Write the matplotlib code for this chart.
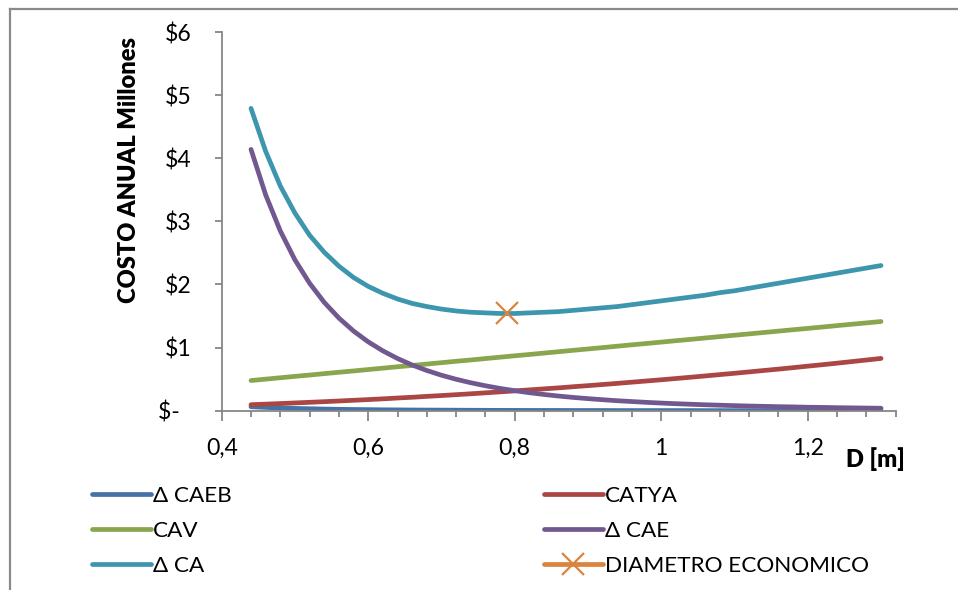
import numpy as np
import matplotlib
matplotlib.use('Agg')
import matplotlib.pyplot as plt
from matplotlib.ticker import MultipleLocator, FuncFormatter
from matplotlib.lines import Line2D

plt.rcParams['font.family'] = ['Lato', 'DejaVu Sans']

# --- data (millones $ per year vs diameter D [m])
D = [0.44, 0.46, 0.48, 0.50, 0.52, 0.54, 0.56, 0.58, 0.60, 0.62, 0.64,
     0.66, 0.68, 0.70, 0.72, 0.74, 0.76, 0.78, 0.80, 0.82, 0.84, 0.86,
     0.88, 0.90, 0.92, 0.94, 0.96, 0.98, 1.00, 1.02, 1.04, 1.06, 1.08,
     1.10, 1.12, 1.14, 1.16, 1.18, 1.20, 1.22, 1.24, 1.26, 1.28, 1.30]

caeb = [0.063, 0.052, 0.043, 0.036, 0.031, 0.026, 0.022, 0.019, 0.017, 0.014, 0.013,
        0.011, 0.010, 0.009, 0.008, 0.007, 0.006, 0.005, 0.005, 0.004, 0.004, 0.004,
        0.003, 0.003, 0.003, 0.002, 0.002, 0.002, 0.002, 0.002, 0.002, 0.001, 0.001,
        0.001, 0.001, 0.001, 0.001, 0.001, 0.001, 0.001, 0.001, 0.001, 0.001, 0.001]

catya = [0.095, 0.104, 0.113, 0.123, 0.133, 0.143, 0.154, 0.165, 0.176, 0.188, 0.201,
         0.213, 0.227, 0.240, 0.254, 0.268, 0.283, 0.298, 0.314, 0.330, 0.346, 0.362,
         0.380, 0.397, 0.415, 0.433, 0.452, 0.471, 0.490, 0.510, 0.530, 0.551, 0.572,
         0.593, 0.615, 0.637, 0.659, 0.682, 0.706, 0.729, 0.753, 0.778, 0.803, 0.828]

cav = [0.478, 0.500, 0.522, 0.544, 0.565, 0.587, 0.609, 0.630, 0.652, 0.674, 0.696,
       0.717, 0.739, 0.761, 0.783, 0.804, 0.826, 0.848, 0.870, 0.891, 0.913, 0.935,
       0.957, 0.978, 1.000, 1.022, 1.044, 1.065, 1.087, 1.109, 1.130, 1.152, 1.174,
       1.196, 1.217, 1.239, 1.261, 1.283, 1.304, 1.326, 1.348, 1.370, 1.391, 1.413]

cae = [4.140, 3.420, 2.848, 2.389, 2.019, 1.716, 1.468, 1.262, 1.091, 0.948, 0.827,
       0.724, 0.637, 0.562, 0.498, 0.443, 0.395, 0.353, 0.317, 0.285, 0.257, 0.232,
       0.210, 0.191, 0.174, 0.158, 0.145, 0.132, 0.121, 0.111, 0.102, 0.094, 0.087,
       0.080, 0.074, 0.069, 0.064, 0.060, 0.055, 0.052, 0.048, 0.045, 0.042, 0.039]

ca = [4.79, 4.11, 3.56, 3.13, 2.78, 2.51, 2.29, 2.11, 1.97, 1.86, 1.77,
      1.70, 1.65, 1.61, 1.58, 1.56, 1.55, 1.54, 1.54, 1.55, 1.56, 1.57,
      1.59, 1.61, 1.63, 1.65, 1.68, 1.71, 1.74, 1.77, 1.80, 1.83, 1.87,
      1.90, 1.94, 1.98, 2.02, 2.06, 2.10, 2.14, 2.18, 2.22, 2.26, 2.30]

d_eco = [0.79]
ca_eco = [1.55]

names = ['\u0394 CAEB', 'CATYA', 'CAV', '\u0394 CAE', '\u0394 CA', 'DIAMETRO ECONOMICO']
colors = ['#4573a7', '#aa4643', '#89a54e', '#71588f', '#3d96ae', '#db843d']

# --- figure
fig = plt.figure(figsize=(9.58, 5.90), dpi=100)
ax = fig.add_axes([221.7/958, 1-410.7/590, 674/958, (410.7-32)/590])

lw = 3.4
series = [caeb, catya, cav, cae, ca]
handles = []
for vals, c, n in zip(series, colors[:5], names[:5]):
    h, = ax.plot(D, vals, color=c, lw=lw, solid_capstyle='round', label=n)
    handles.append(h)
# single point with line style so the legend shows line + cross
h_eco, = ax.plot(d_eco, ca_eco, ls='-', lw=lw, marker='x', ms=15.5, mew=1.6,
                 color=colors[5], solid_capstyle='round', label=names[5])

ax.set_xlim(0.4, 1.32)
ax.set_ylim(0, 6)

gray = '#868686'
for s in ['top', 'right']:
    ax.spines[s].set_visible(False)
for s in ['left', 'bottom']:
    ax.spines[s].set_color(gray)
    ax.spines[s].set_linewidth(1.3)

ax.xaxis.set_major_locator(MultipleLocator(0.2))
ax.xaxis.set_minor_locator(MultipleLocator(0.04))
ax.yaxis.set_major_locator(MultipleLocator(1))
ax.xaxis.set_major_formatter(FuncFormatter(lambda v, p: f'{v:g}'.replace('.', ',')))
# accounting style: zero shown as "$-" followed by a gap
ax.yaxis.set_major_formatter(FuncFormatter(
    lambda v, p: '$-\u2002' if abs(v) < 1e-9 else f'${v:g}'))

fs = 16.6
ax.tick_params(axis='x', which='major', length=7, width=1.3, color=gray,
               labelsize=fs, pad=12.5)
ax.tick_params(axis='x', which='minor', length=4, width=1.3, color=gray)
ax.tick_params(axis='y', which='major', length=5, width=1.3, color=gray,
               labelsize=fs, pad=17)

fig.text(129/958, 1-170/590, 'COSTO ANUAL Millones', rotation=90,
         ha='center', va='center', fontsize=17, fontweight='heavy')
fig.text(905/958, 1-459/590, 'D [m]', ha='right', va='center',
         fontsize=17, fontweight='heavy')

# legend, two columns placed by hand
lfs = 16.2
leg_kw = dict(frameon=False, fontsize=lfs, handlelength=2.6, handletextpad=0.12,
              labelspacing=0.68, borderpad=0, borderaxespad=0, loc='upper left',
              numpoints=1)
leg1 = fig.legend([handles[0], handles[2], handles[4]],
                  [names[0], names[2], names[4]],
                  bbox_to_anchor=(92/958, 1-485.5/590), **leg_kw)
leg2 = fig.legend([handles[1], handles[3], h_eco],
                  [names[1], names[3], names[5]],
                  bbox_to_anchor=(544/958, 1-485.5/590), **leg_kw)

# chart border
fig.add_artist(Line2D([10/958, 1.0], [1-9/590, 1-9/590], color='#8a8a8a', lw=1.6))
fig.add_artist(Line2D([10/958, 10/958], [0.0, 1-9/590], color='#8a8a8a', lw=1.6))

fig.savefig('out.png', dpi=100)
